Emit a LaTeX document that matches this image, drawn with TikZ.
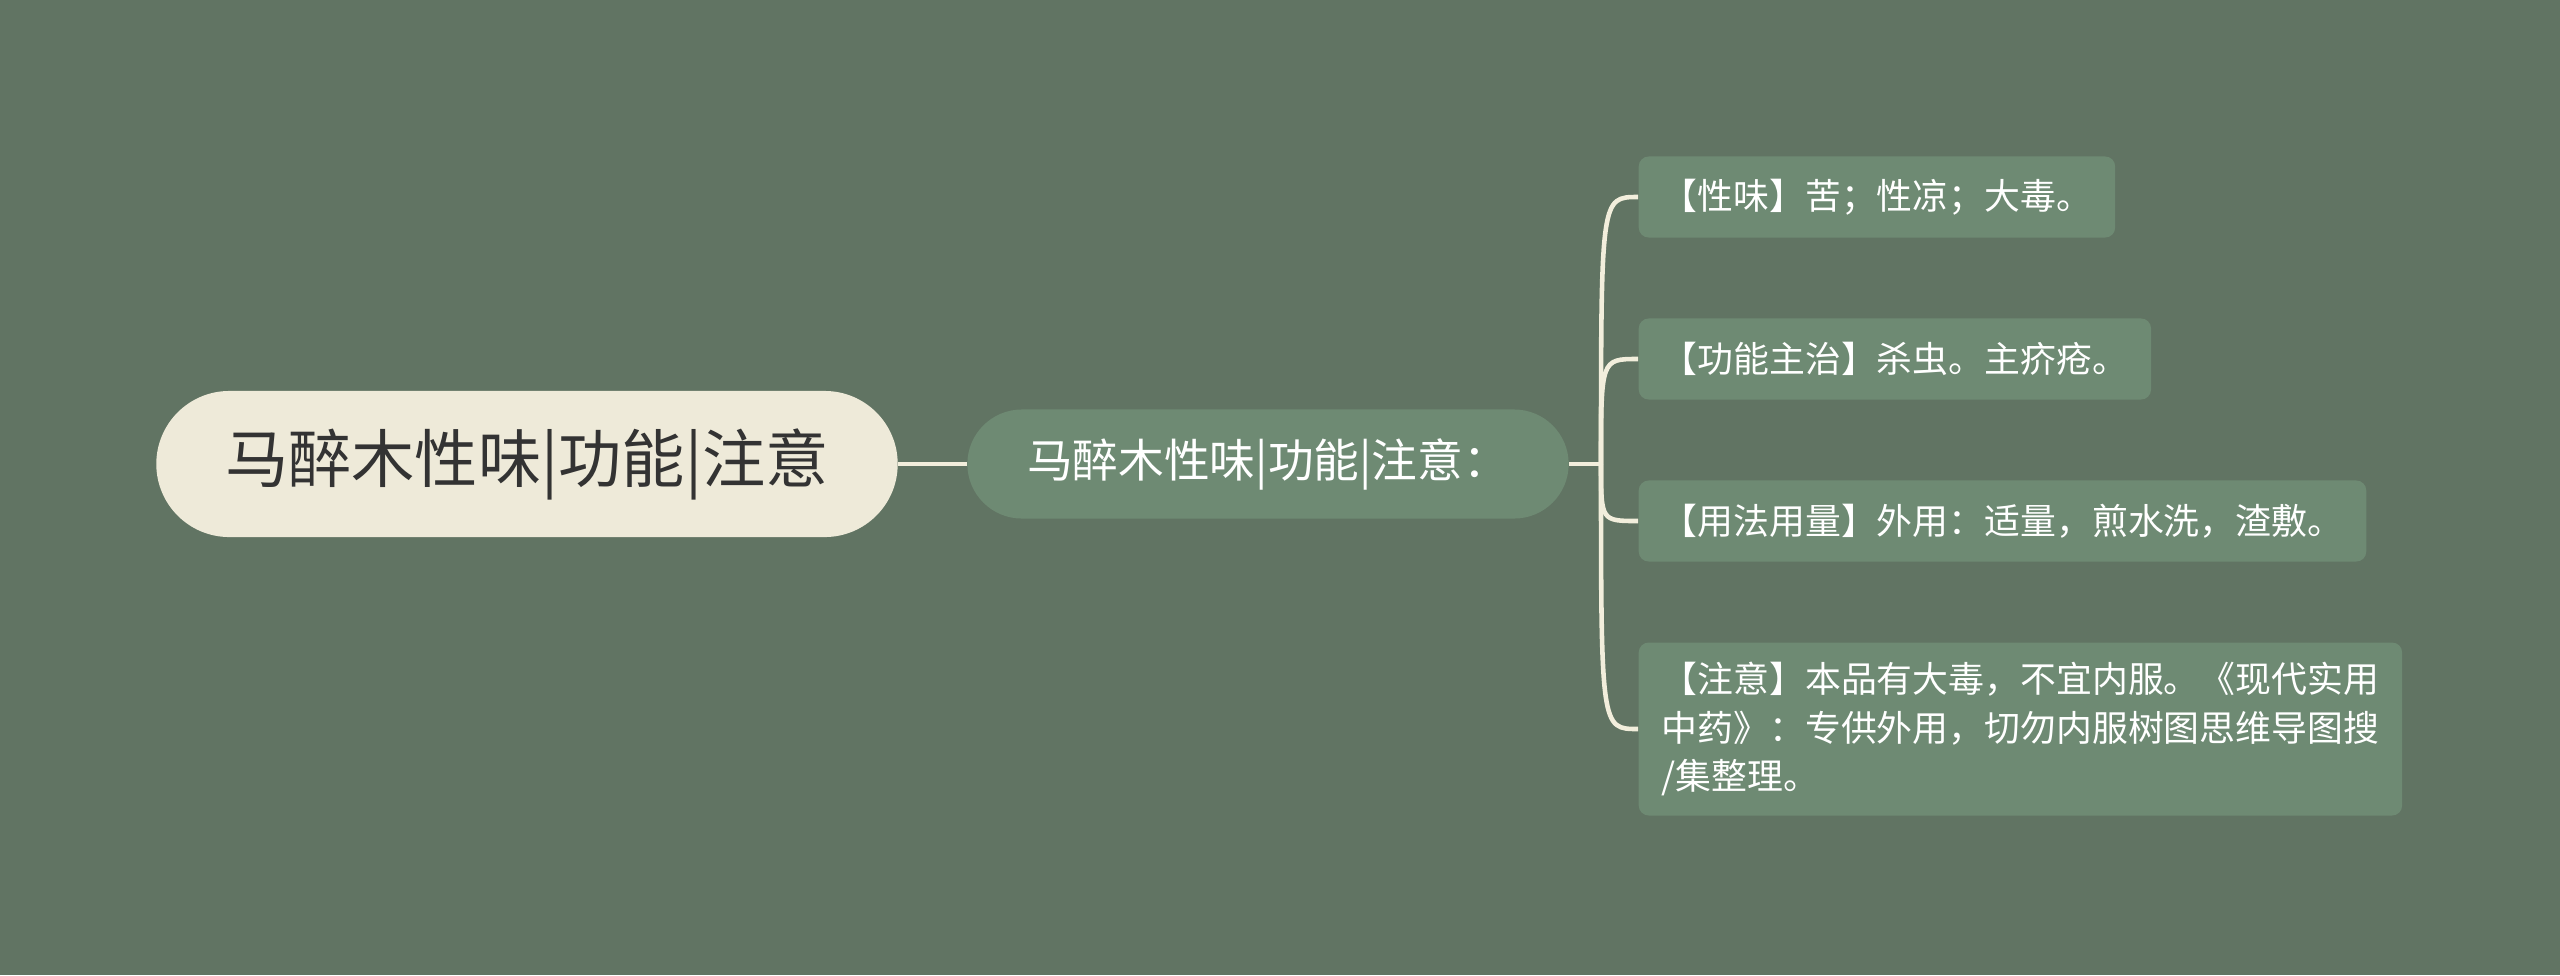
\documentclass[tikz,border=0pt]{standalone}
\usepackage{fontspec}
\setmainfont{Noto Sans CJK SC}
\definecolor{bgcol}{HTML}{617463}
\definecolor{boxcol}{HTML}{6E8A73}
\definecolor{rootcol}{HTML}{EEEAD9}
\definecolor{linecol}{HTML}{F2EEDC}
\tikzset{
  rootbox/.style={fill=rootcol, text=black!80, rounded corners=0.73cm,
    minimum width=7.41cm, minimum height=1.46cm, font=\fontsize{18pt}{21pt}\selectfont},
  subbox/.style={fill=boxcol, text=white, rounded corners=0.545cm,
    minimum width=6.01cm, minimum height=1.09cm, font=\fontsize{13pt}{16pt}\selectfont},
  leafbox/.style={fill=boxcol, text=white, rounded corners=0.1cm, anchor=west,
    inner xsep=0.23cm, inner ysep=0.2cm, minimum height=0.81cm, align=left,
    font=\fontsize{10.2pt}{13.66pt}\selectfont},
  link/.style={draw=linecol, line width=1.3pt}
}
\begin{document}
\begin{tikzpicture}[x=0.01cm, y=-0.01cm]
    % Fondo
    \fill[bgcol] (0,0) rectangle (2560,975);
    % Nodos principales
    \node[rootbox] (root) at (527,464) {马醉木性味|功能|注意};
    \node[subbox] (sub) at (1268,464) {马醉木性味|功能|注意：};
    \coordinate (j) at (1601,464);
    % Hojas
    \node[leafbox] (l1) at (1638,197) {【性味】苦；性凉；大毒。};
    \node[leafbox] (l2) at (1638,359) {【功能主治】杀虫。主疥疮。};
    \node[leafbox] (l3) at (1638,521) {【用法用量】外用：适量，煎水洗，渣敷。};
    \node[leafbox] (l4) at (1638,729) {【注意】本品有大毒，不宜内服。《现代实用\\中药》：专供外用，切勿内服树图思维导图搜\\/集整理。};
    % Conexiones
    \draw[link] (root) -- (sub);
    \draw[link] (sub) -- (j);
    \foreach \l in {l1,l2,l3,l4}
        \draw[link] (j) .. controls (j |- \l.west) .. (\l.west);
\end{tikzpicture}
\end{document}
